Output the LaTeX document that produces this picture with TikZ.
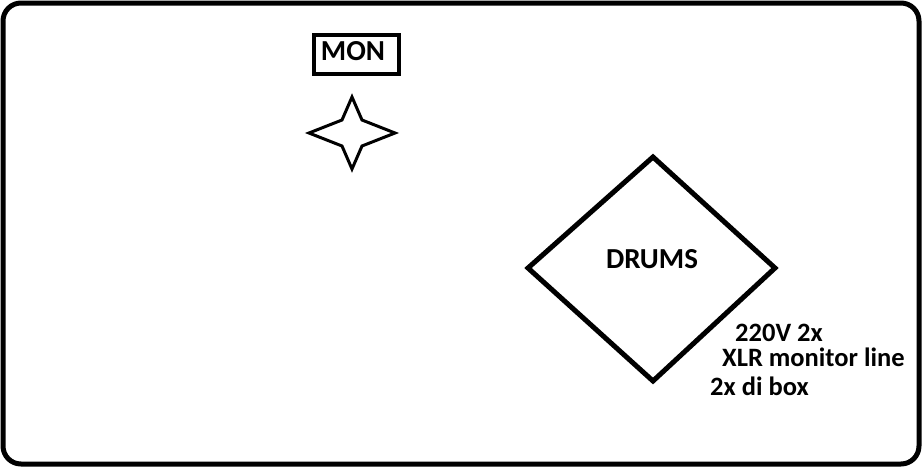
\documentclass[tikz,border=0pt]{standalone}
\usepackage{fontspec}
\setmainfont{Carlito}
\usetikzlibrary{positioning}

\begin{document}
\begin{tikzpicture}[x=1pt, y=-1pt,
    lbl/.style={font=\bfseries\fontsize{29}{34}\selectfont, inner sep=0pt},
    note/.style={font=\bfseries\fontsize{26.5}{31}\selectfont, inner sep=0pt, anchor=west}]
\useasboundingbox (0,0) rectangle (922,467);

% Stage outline
\draw[line width=5pt, rounded corners=18pt] (3,3) rectangle (919,464);

% Monitor box
\draw[line width=3.5pt] (314,35) rectangle (399,74);
\node[lbl] (mon) at (353,51) {MON};

% Monitor position (star)
\begin{scope}[shift={(352,133)}]
    \draw[line width=3pt, line join=miter]
        (0,-36) -- (10,-13) -- (43,0) -- (10,13) -- (0,36)
        -- (-10,13) -- (-43,0) -- (-10,-13) -- cycle;
\end{scope}

% Drum riser
\coordinate (dtop) at (653,157);
\coordinate (dright) at (775,268);
\coordinate (dbot) at (653,381);
\coordinate (dleft) at (528,268);
\draw[line width=5pt, line join=miter] (dtop) -- (dright) -- (dbot) -- (dleft) -- cycle;
\node[lbl] (drums) at (652,259) {DRUMS};

% Connections
\node[note] (power) at (735,333) {220V 2x};
\node[note] (xlr) at (722,357) {XLR monitor line};
\node[note] (dibox) at (710,386) {2x di box};
\end{tikzpicture}
\end{document}
